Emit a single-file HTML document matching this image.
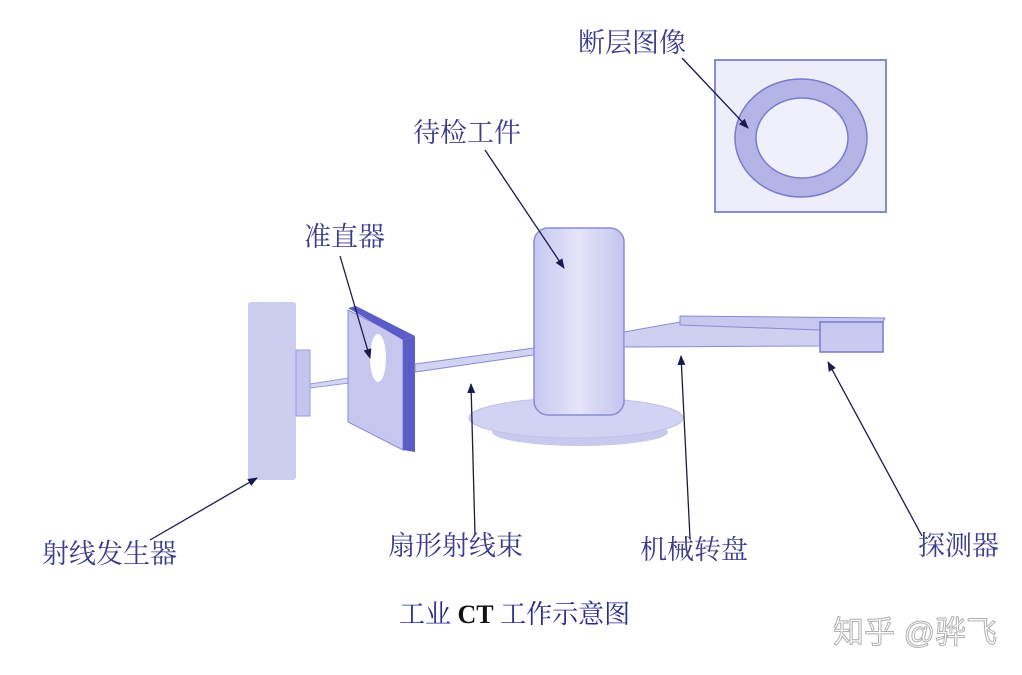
<!DOCTYPE html>
<html><head><meta charset="utf-8"><style>
html,body{margin:0;padding:0;background:#fff;}
svg{display:block}
.l{font-family:"Liberation Serif","Noto Serif CJK SC",serif;font-size:27px;fill:#3c3c8c;}
</style></head><body>
<svg width="1022" height="675" viewBox="0 0 1022 675" xmlns="http://www.w3.org/2000/svg">
<defs>
<marker id="a" markerWidth="10" markerHeight="10" refX="9" refY="5" orient="auto" markerUnits="userSpaceOnUse"><path d="M0,1 L10,5 L0,9 Z" fill="#1a1a50"/></marker>
<linearGradient id="cyl" x1="0" x2="1"><stop offset="0" stop-color="#c8c8f0"/><stop offset="0.5" stop-color="#e4e4fa"/><stop offset="1" stop-color="#c4c4ee"/></linearGradient>
</defs>
<rect x="715" y="60" width="171" height="152" fill="#eeeefb" stroke="#8a8ad0" stroke-width="2"/>
<ellipse cx="801" cy="138" rx="66" ry="59" fill="#b4b4e6" stroke="#7a7acc" stroke-width="1.5"/>
<ellipse cx="802" cy="138" rx="46" ry="40" fill="#f0f0fc" stroke="#7a7acc" stroke-width="1.5"/>
<rect x="248" y="302" width="48" height="178" rx="3" fill="#cdcdf0"/>
<rect x="296" y="350" width="14" height="66" fill="#c4c4ee" stroke="#9a9ae0" stroke-width="1"/>
<polygon points="310,384 388,372 388,378 310,388" fill="#d6d6f4" stroke="#9a9ae0" stroke-width="1"/>
<polygon points="348,310 403,338 403,450 348,422" fill="#c6c6ee" stroke="#8a8ad8" stroke-width="1"/>
<polygon points="348,308 356,306 415,336 403,340" fill="#5c5cc8"/>
<polygon points="403,340 415,336 415,452 403,450" fill="#5c5cc8"/>
<ellipse cx="378" cy="358" rx="8" ry="24" fill="#fff"/>
<ellipse cx="580" cy="432" rx="88" ry="14" fill="#c9c9ee"/>
<ellipse cx="576" cy="418" rx="107" ry="20" fill="#d2d2f2" stroke="#c0c0ea" stroke-width="1"/>
<polygon points="415,364 624,336 624,342 415,372" fill="#d2d2f2" stroke="#8a8ad8" stroke-width="1"/>
<rect x="534" y="228" width="90" height="187" rx="14" fill="url(#cyl)" stroke="#8a8ad8" stroke-width="1.5"/>
<polygon points="624,332 680,322 820,328 820,346 624,347" fill="#cfcff0" stroke="#8a8ad8" stroke-width="1"/>
<polygon points="680,316 885,318 883,322 820,330 680,325" fill="#c8c8ee" stroke="#8a8ad8" stroke-width="1"/>
<rect x="820" y="322" width="63" height="30" fill="#cacaf0" stroke="#7a7ad0" stroke-width="1.5"/>
<g stroke="#1a1a50" stroke-width="1.3" fill="none" marker-end="url(#a)">
<line x1="682" y1="58" x2="748" y2="128"/>
<line x1="485" y1="150" x2="564" y2="268"/>
<line x1="340" y1="256" x2="370" y2="358"/>
<line x1="150" y1="540" x2="257" y2="478"/>
<line x1="475" y1="535" x2="471" y2="384"/>
<line x1="690" y1="538" x2="681" y2="356"/>
<line x1="922" y1="536" x2="828" y2="362"/>
</g>
<text class="l" x="578" y="52">断层图像</text>
<text class="l" x="413" y="142">待检工件</text>
<text class="l" x="304" y="246">准直器</text>
<text class="l" x="42" y="563">射线发生器</text>
<text class="l" x="388" y="555">扇形射线束</text>
<text class="l" x="640" y="559">机械转盘</text>
<text class="l" x="918" y="555">探测器</text>
<text x="399" y="623" style="font-family:'Liberation Serif','Noto Serif CJK SC',serif;font-size:26px;fill:#2a2a90;">工业 <tspan font-weight="bold" fill="#111">CT</tspan> 工作示意图</text>
<text x="833" y="643" style="font-family:'Liberation Sans','Noto Sans CJK SC',sans-serif;font-size:31px;fill:#fff;stroke:#b0b0b0;stroke-width:1;">知乎 @骅飞</text>
</svg>
</body></html>
